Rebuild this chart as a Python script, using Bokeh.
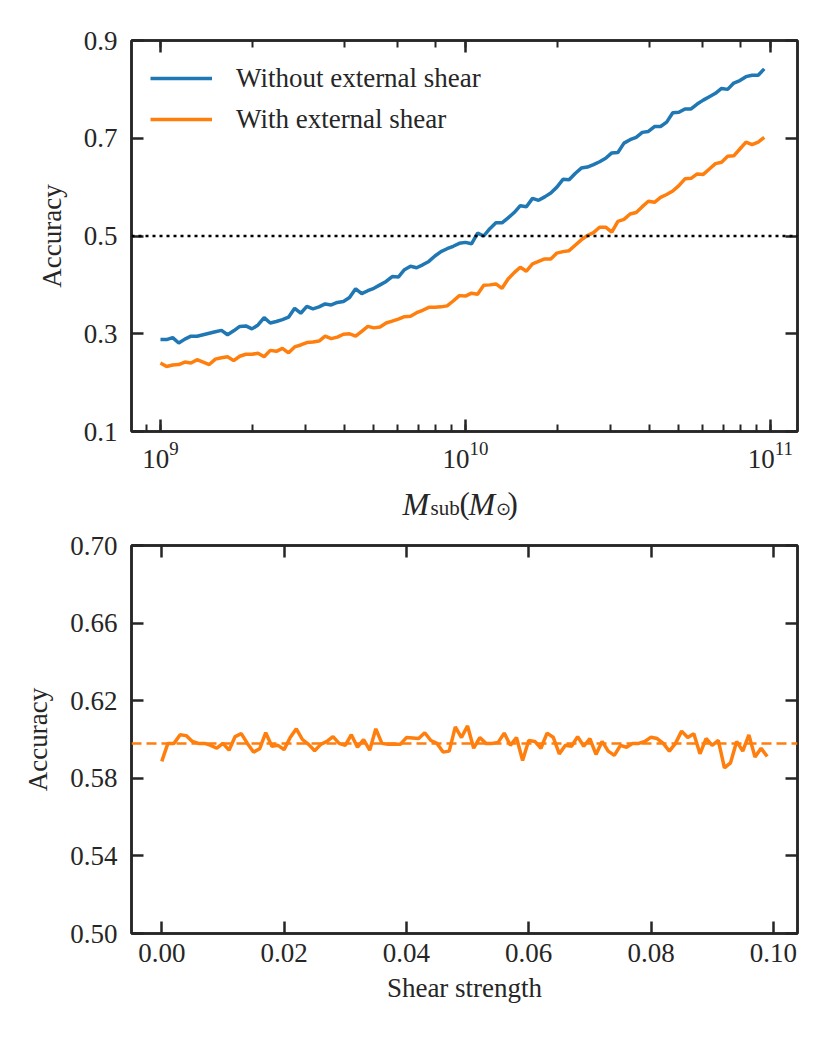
import numpy as np
from bokeh.plotting import figure
from bokeh.layouts import column
from bokeh.models import (Range1d, FixedTicker, PrintfTickFormatter, LogAxis, LinearAxis,
                          CustomJSTickFormatter, Span, Legend, LegendItem, LogTicker)
from bokeh.core.properties import value
from bokeh.embed import file_html
from bokeh.resources import INLINE

# ---------------- data ----------------
mass = np.logspace(9, 11, 100, endpoint=False)  # sampling grid (M_sun)

acc_without_shear = [
    0.288, 0.288, 0.292, 0.281, 0.289, 0.295, 0.295, 0.298, 0.301, 0.304,
    0.307, 0.298, 0.306, 0.315, 0.316, 0.310, 0.318, 0.333, 0.322, 0.325,
    0.329, 0.334, 0.352, 0.342, 0.356, 0.351, 0.355, 0.361, 0.359, 0.364,
    0.366, 0.374, 0.392, 0.382, 0.388, 0.393, 0.400, 0.407, 0.417, 0.416,
    0.431, 0.438, 0.435, 0.441, 0.448, 0.459, 0.468, 0.474, 0.479, 0.485,
    0.487, 0.484, 0.506, 0.500, 0.515, 0.527, 0.527, 0.537, 0.548, 0.562,
    0.560, 0.577, 0.573, 0.580, 0.588, 0.600, 0.616, 0.615, 0.628, 0.639,
    0.641, 0.646, 0.652, 0.659, 0.670, 0.671, 0.690, 0.697, 0.702, 0.712,
    0.714, 0.724, 0.724, 0.733, 0.752, 0.753, 0.760, 0.760, 0.770, 0.778,
    0.785, 0.792, 0.802, 0.800, 0.813, 0.818, 0.826, 0.829, 0.829, 0.842,
]

acc_with_shear = [
    0.240, 0.233, 0.236, 0.237, 0.242, 0.240, 0.247, 0.242, 0.237, 0.248,
    0.251, 0.253, 0.245, 0.254, 0.258, 0.258, 0.260, 0.253, 0.266, 0.264,
    0.270, 0.261, 0.273, 0.277, 0.282, 0.283, 0.285, 0.295, 0.290, 0.293,
    0.299, 0.300, 0.295, 0.305, 0.315, 0.312, 0.314, 0.322, 0.326, 0.330,
    0.335, 0.336, 0.343, 0.348, 0.354, 0.354, 0.355, 0.357, 0.367, 0.378,
    0.377, 0.383, 0.381, 0.399, 0.400, 0.402, 0.393, 0.412, 0.425, 0.436,
    0.428, 0.443, 0.448, 0.453, 0.453, 0.465, 0.468, 0.470, 0.481, 0.492,
    0.501, 0.507, 0.518, 0.518, 0.508, 0.530, 0.534, 0.545, 0.548, 0.560,
    0.571, 0.569, 0.579, 0.585, 0.592, 0.603, 0.617, 0.618, 0.627, 0.626,
    0.637, 0.648, 0.651, 0.663, 0.664, 0.678, 0.692, 0.687, 0.692, 0.702,
]

shear_strength = np.arange(100) * 0.001

acc_vs_shear = [
    0.5887, 0.5980, 0.5980, 0.6024, 0.6020, 0.5990, 0.5980, 0.5980, 0.5970, 0.5955,
    0.5980, 0.5945, 0.6015, 0.6030, 0.5980, 0.5935, 0.5952, 0.6035, 0.5965, 0.5970,
    0.5948, 0.6010, 0.6055, 0.6000, 0.5975, 0.5942, 0.5975, 0.5990, 0.6015, 0.5980,
    0.5970, 0.6025, 0.5960, 0.6000, 0.5945, 0.6055, 0.5980, 0.5975, 0.5975, 0.5975,
    0.6010, 0.6008, 0.6005, 0.6035, 0.5995, 0.5980, 0.5935, 0.5940, 0.6065, 0.6010,
    0.6070, 0.5955, 0.6010, 0.5980, 0.5980, 0.5985, 0.6033, 0.5970, 0.6010, 0.5892,
    0.5995, 0.5990, 0.5955, 0.6033, 0.6012, 0.5926, 0.5970, 0.5965, 0.6015, 0.5965,
    0.6005, 0.5923, 0.5990, 0.5940, 0.5918, 0.5970, 0.5960, 0.5980, 0.5980, 0.5990,
    0.6012, 0.6005, 0.5980, 0.5940, 0.5980, 0.6043, 0.6010, 0.6030, 0.5926, 0.6005,
    0.5970, 0.5995, 0.5854, 0.5880, 0.5990, 0.5940, 0.6024, 0.5910, 0.5955, 0.5912,
]
mean_accuracy = 0.598
chance_level = 0.5

top_yticks = [0.1, 0.3, 0.5, 0.7, 0.9]
bottom_yticks = [0.50, 0.54, 0.58, 0.62, 0.66, 0.70]
bottom_xticks = [0.00, 0.02, 0.04, 0.06, 0.08, 0.10]

BLUE = "#1f77b4"
ORANGE = "#ff7f0e"
INK = "#262626"
FONT = "Liberation Serif"
FS = "27px"


def style_axis(ax, labels=True):
    ax.axis_line_color = INK
    ax.axis_line_width = 2.5
    ax.major_tick_line_color = INK
    ax.major_tick_line_width = 2.5
    ax.minor_tick_line_color = INK
    ax.minor_tick_line_width = 2
    ax.major_tick_in = 12
    ax.major_tick_out = 0
    ax.minor_tick_in = 7
    ax.minor_tick_out = 0
    ax.major_label_text_font = FONT
    ax.major_label_text_font_size = FS
    ax.major_label_text_color = INK
    ax.axis_label_text_font = FONT
    ax.axis_label_text_font_size = FS
    ax.axis_label_text_font_style = "normal"
    ax.axis_label_text_color = INK
    if not labels:
        ax.formatter = CustomJSTickFormatter(code="return ''")
        ax.major_label_standoff = 0
        ax.major_label_text_font_size = "1px"


# ---------------- top panel ----------------
p1 = figure(width=822, height=475, x_axis_type="log",
            x_range=Range1d(10 ** 8.905, 10 ** 11.089), y_range=Range1d(0.1, 0.9),
            output_backend="svg", toolbar_location=None,
            min_border_left=131, min_border_right=25, min_border_top=40, min_border_bottom=44)
p1.grid.visible = False
p1.outline_line_color = INK
p1.outline_line_width = 2.5

p1.yaxis.ticker = FixedTicker(ticks=top_yticks)
p1.yaxis.formatter = PrintfTickFormatter(format="%.1f")
p1.yaxis.axis_label = "Accuracy"
p1.yaxis.major_label_standoff = 14
p1.yaxis.axis_label_standoff = 14
p1.xaxis.major_label_standoff = 10
for ax in p1.xaxis + p1.yaxis:
    style_axis(ax)

top_ax = LogAxis(ticker=LogTicker())
style_axis(top_ax, labels=False)
p1.add_layout(top_ax, "above")
right_ax = LinearAxis(ticker=FixedTicker(ticks=top_yticks))
style_axis(right_ax, labels=False)
p1.add_layout(right_ax, "right")

p1.add_layout(Span(location=chance_level, dimension="width", line_color="black",
                   line_width=2.5, line_dash="3 4"))

r_blue = p1.line(mass, acc_without_shear, line_color=BLUE, line_width=3.5)
r_orange = p1.line(mass, acc_with_shear, line_color=ORANGE, line_width=3.5)

legend = Legend(items=[LegendItem(label="Without external shear", renderers=[r_blue]),
                       LegendItem(label="With external shear", renderers=[r_orange])],
                location="top_left")
legend.border_line_color = None
legend.background_fill_alpha = 0
legend.margin = 19
legend.padding = 11
legend.glyph_width = 62
legend.glyph_height = 38
legend.label_height = 38
legend.label_standoff = 24
legend.spacing = 3
legend.label_text_font = FONT
legend.label_text_font_size = FS
legend.label_text_color = INK
p1.add_layout(legend)

# ---------------- x-axis label strip for the top panel: M_sub(M_sun) ----------------
# the strip's frame spans the same pixels as the panel frame (page x 131..797)
plab = figure(frame_width=666, frame_height=45, x_range=Range1d(131, 797), y_range=Range1d(0, 45),
              output_backend="svg", toolbar_location=None,
              min_border_left=131, min_border_right=25, min_border_top=0, min_border_bottom=0)
plab.axis.visible = False
plab.grid.visible = False
plab.outline_line_color = None
label_pieces = [
    # text, x, y, size, style
    ("M", 402, 17, "32px", "italic"),
    ("sub", 430, 13, "21px", "normal"),
    ("(", 459, 17, "31px", "normal"),
    ("M", 468, 17, "32px", "italic"),
    ("⊙", 495, 12, "18px", "normal"),
    (")", 507, 17, "31px", "normal"),
]
for txt, sx, sy, fs, style in label_pieces:
    plab.text(x=[sx], y=[sy], text=[txt], text_font=value(FONT), text_font_size=value(fs),
              text_font_style=style, text_color=INK, text_baseline="alphabetic",
              text_align="left")

# ---------------- bottom panel ----------------
p2 = figure(width=822, height=510,
            x_range=Range1d(-0.00495, 0.10395), y_range=Range1d(0.5, 0.7),
            output_backend="svg", toolbar_location=None,
            min_border_left=131, min_border_right=25, min_border_top=25, min_border_bottom=97)
p2.grid.visible = False
p2.outline_line_color = INK
p2.outline_line_width = 2.5

p2.yaxis.ticker = FixedTicker(ticks=bottom_yticks)
p2.yaxis.formatter = PrintfTickFormatter(format="%.2f")
p2.xaxis.ticker = FixedTicker(ticks=bottom_xticks)
p2.xaxis.formatter = PrintfTickFormatter(format="%.2f")
p2.yaxis.axis_label = "Accuracy"
p2.xaxis.axis_label = "Shear strength"
p2.yaxis.major_label_standoff = 14
p2.yaxis.axis_label_standoff = 14
p2.xaxis.major_label_standoff = 10
p2.xaxis.axis_label_standoff = 8
for ax in p2.xaxis + p2.yaxis:
    style_axis(ax)

top_ax2 = LinearAxis(ticker=FixedTicker(ticks=bottom_xticks))
style_axis(top_ax2, labels=False)
p2.add_layout(top_ax2, "above")
right_ax2 = LinearAxis(ticker=FixedTicker(ticks=bottom_yticks))
style_axis(right_ax2, labels=False)
p2.add_layout(right_ax2, "right")

p2.add_layout(Span(location=mean_accuracy, dimension="width", line_color=ORANGE,
                   line_width=2.5, line_dash="10 5"))
p2.line(shear_strength, acc_vs_shear, line_color=ORANGE, line_width=3.5)

layout = column(p1, plab, p2)
open("out.html", "w").write(file_html(layout, INLINE))
